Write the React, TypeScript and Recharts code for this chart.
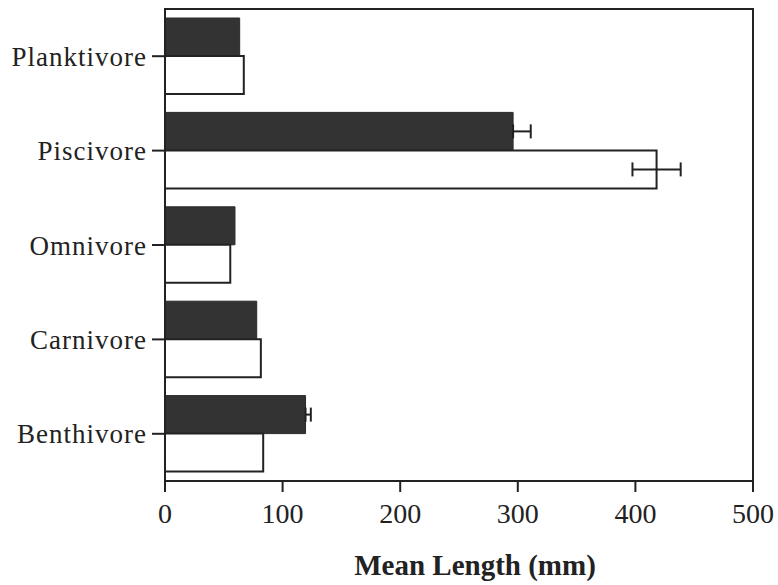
import { BarChart, Bar, XAxis, YAxis, ErrorBar, ReferenceArea, Label } from "recharts";

const categories = ["Planktivore", "Piscivore", "Omnivore", "Carnivore", "Benthivore"];
const darkValues = [63.5, 296, 59.5, 78, 119.5];
const darkErrors = [0, 15, 0, 0, 4.5];
const whiteValues = [67, 418, 55.5, 81.5, 83.5];
const whiteErrors = [0, 20.5, 0, 0, 0];
const xTicks = [0, 100, 200, 300, 400, 500];

// dark bars only show the upper half of the error bar (lower half is hidden by the fill)
const data = categories.map((name, i) => ({
  name,
  dark: darkValues[i],
  darkErr: darkErrors[i] ? [0, darkErrors[i]] : null,
  white: whiteValues[i],
  whiteErr: whiteErrors[i] || null,
}));

const FONT = "'Liberation Serif', 'Times New Roman', serif";
const INK = "#222";

export default function App() {
  return (
    <div style={{ position: "absolute", left: 0, top: 0, background: "#fff" }}>
      <BarChart
        width={778}
        height={585}
        data={data}
        layout="vertical"
        margin={{ top: 9, right: 25, left: 0, bottom: 4 }}
        barGap={0}
        barSize={38}
      >
        <XAxis
          type="number"
          domain={[0, 500]}
          ticks={xTicks}
          interval={0}
          tickSize={11}
          tickMargin={11}
          height={100}
          axisLine={{ stroke: INK, strokeWidth: 2 }}
          tickLine={{ stroke: INK, strokeWidth: 2 }}
          tick={{ fontSize: 28, fill: INK, fontFamily: FONT }}
        >
          <Label
            value="Mean Length (mm)"
            position="insideBottom"
            offset={6}
            dx={16}
            style={{ fontSize: 29, fontWeight: "bold", fill: INK, fontFamily: FONT }}
          />
        </XAxis>
        <YAxis
          type="category"
          dataKey="name"
          width={165}
          tickSize={13}
          tickMargin={5}
          axisLine={{ stroke: INK, strokeWidth: 2 }}
          tickLine={{ stroke: INK, strokeWidth: 2 }}
          tick={{ fontSize: 27, fill: INK, fontFamily: FONT, letterSpacing: 1 }}
        />
        <ReferenceArea
          x1={0}
          x2={500}
          fill="none"
          fillOpacity={0}
          stroke={INK}
          strokeWidth={2}
          ifOverflow="visible"
        />
        <Bar dataKey="dark" fill="#333" stroke="#2a2a2a" strokeWidth={1} isAnimationActive={false}>
          <ErrorBar dataKey="darkErr" direction="x" width={7} stroke={INK} strokeWidth={2} />
        </Bar>
        <Bar dataKey="white" fill="#fff" stroke={INK} strokeWidth={2} isAnimationActive={false}>
          <ErrorBar dataKey="whiteErr" direction="x" width={7} stroke={INK} strokeWidth={2} />
        </Bar>
      </BarChart>
    </div>
  );
}
